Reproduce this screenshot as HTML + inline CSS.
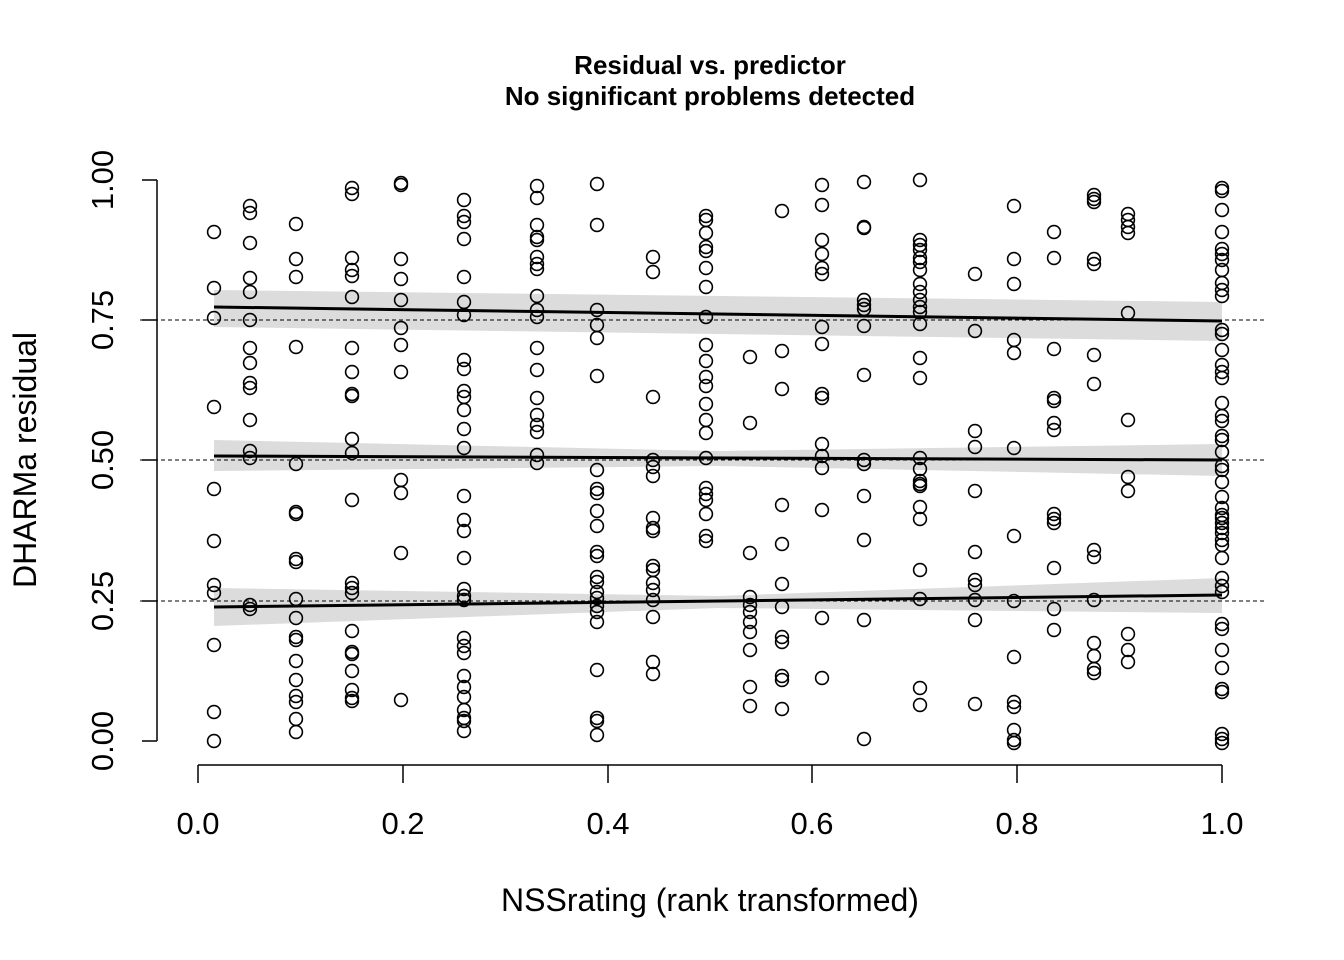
<!DOCTYPE html>
<html><head><meta charset="utf-8"><style>body{margin:0;background:#fff}svg{display:block}</style></head><body>
<svg id="s" width="1344" height="960" xmlns="http://www.w3.org/2000/svg" font-family="Liberation Sans, Arial, sans-serif">
<rect width="1344" height="960" fill="#fff"/>
<polygon points="214,290 1222,302 1222,341 214,327" fill="#dcdcdc"/>
<polygon points="214,440 718,451 1222,444 1222,476 718,466 214,471" fill="#dcdcdc"/>
<polygon points="214,588 718,596 1222,578 1222,613 718,608 214,626" fill="#dcdcdc"/>
<g stroke="#000" stroke-width="1" stroke-dasharray="4,3">
<line x1="140" y1="320" x2="1264" y2="320"/><line x1="140" y1="460" x2="1264" y2="460"/><line x1="140" y1="601" x2="1264" y2="601"/>
</g>
<g id="pts" fill="none" stroke="#000" stroke-width="1.6"></g>
<g stroke="#000" stroke-width="3">
<line x1="214" y1="307" x2="1222" y2="321"/><line x1="214" y1="456" x2="1222" y2="460"/><line x1="214" y1="607" x2="1222" y2="595"/>
</g>
<g stroke="#000" stroke-width="1.5" fill="none">
<line x1="157" y1="180" x2="157" y2="741"/>
<line x1="142" y1="180" x2="157" y2="180"/><line x1="142" y1="320" x2="157" y2="320"/><line x1="142" y1="460" x2="157" y2="460"/><line x1="142" y1="601" x2="157" y2="601"/><line x1="142" y1="741" x2="157" y2="741"/>
<line x1="198" y1="765" x2="1222" y2="765"/>
<line x1="198" y1="765" x2="198" y2="783"/><line x1="403" y1="765" x2="403" y2="783"/><line x1="608" y1="765" x2="608" y2="783"/><line x1="812" y1="765" x2="812" y2="783"/><line x1="1017" y1="765" x2="1017" y2="783"/><line x1="1222" y1="765" x2="1222" y2="783"/>
</g>
<g font-size="31" text-anchor="middle">
<text x="198" y="834">0.0</text><text x="403" y="834">0.2</text><text x="608" y="834">0.4</text><text x="812" y="834">0.6</text><text x="1017" y="834">0.8</text><text x="1222" y="834">1.0</text>
<text transform="translate(113,180) rotate(-90)">1.00</text>
<text transform="translate(113,320) rotate(-90)">0.75</text>
<text transform="translate(113,460) rotate(-90)">0.50</text>
<text transform="translate(113,601) rotate(-90)">0.25</text>
<text transform="translate(113,741) rotate(-90)">0.00</text>
</g>
<g font-size="32" text-anchor="middle">
<text x="710" y="911">NSSrating (rank transformed)</text>
<text transform="translate(36,460) rotate(-90)">DHARMa residual</text>
</g>
<g font-size="26" font-weight="bold" text-anchor="middle">
<text x="710" y="74">Residual vs. predictor</text>
<text x="710" y="105">No significant problems detected</text>
</g>
</svg>
<script>
var d={214:[232,288,318,407,489,541,585,593,645,712,741],
250:[206,213,243,278,292,320,348,363,383,388,420,451,458,605,609],
296:[224,259,277,347,464,512,514,559,562,599,618,637,640,661,680,696,702,719,732],
352:[188,194,258,270,276,297,348,372,394,396,439,453,500,583,588,593,631,652,654,671,690,698,701],
401:[183,185,259,279,300,328,345,372,480,493,553,700],
464:[200,216,222,239,277,302,315,360,369,391,397,410,429,448,496,520,531,558,589,596,600,638,646,653,676,687,697,710,718,721,731],
537:[186,198,225,237,240,257,264,269,296,310,317,348,370,398,415,425,432,455,463],
597:[184,225,310,325,338,376,470,489,493,511,526,552,556,577,582,592,598,606,612,622,670,718,721,735],
653:[257,272,397,460,467,476,518,528,531,566,570,583,590,600,617,662,674],
706:[216,220,233,247,251,268,287,317,345,361,377,386,404,420,433,458,488,494,500,514,536,541],
750:[357,423,553,597,605,612,622,632,650,687,706],
782:[211,351,389,505,544,584,607,637,642,676,680,709],
822:[185,205,240,254,268,274,327,344,394,398,444,456,468,510,618,678],
864:[182,227,228,300,305,309,326,375,460,464,496,540,620,739],
920:[180,240,245,250,258,262,270,284,292,300,307,312,324,358,378,458,469,481,484,486,507,519,570,599,688,705],
975:[274,331,431,447,491,552,580,585,600,620,704],
1014:[206,259,284,340,353,448,536,601,657,702,707,730,740,743],
1054:[232,258,349,398,401,423,430,514,519,523,568,609,630],
1094:[195,199,202,259,264,355,384,550,557,600,643,656,669,673],
1128:[214,220,227,233,313,420,477,491,634,650,662],
1222:[188,191,210,232,249,254,260,270,283,290,296,330,334,350,365,372,378,403,416,421,436,440,452,466,470,482,497,508,515,518,523,528,533,540,545,558,578,586,592,624,629,650,668,689,692,734,739,743]};
var g=document.getElementById('pts'),h='';
for(var x in d){d[x].forEach(function(y){h+='<circle cx="'+x+'" cy="'+y+'" r="6.4"/>';});}
g.innerHTML=h;
</script>
</body></html>
